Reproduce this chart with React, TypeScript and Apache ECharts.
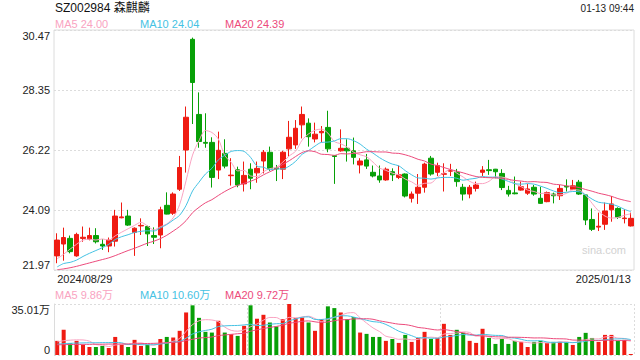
import { useEffect, useRef } from 'react';
import * as echarts from 'echarts';

const titleText = 'SZ002984 森麒麟';
const timeText = '01-13 09:44';
const watermark = 'sina.com';

const dates = [
  '2024/08/29', '2024/08/30',
  '2024/09/02', '2024/09/03', '2024/09/04', '2024/09/05', '2024/09/06',
  '2024/09/09', '2024/09/10', '2024/09/11', '2024/09/12', '2024/09/13',
  '2024/09/18', '2024/09/19', '2024/09/20',
  '2024/09/23', '2024/09/24', '2024/09/25', '2024/09/26', '2024/09/27', '2024/09/30',
  '2024/10/08', '2024/10/09', '2024/10/10', '2024/10/11',
  '2024/10/14', '2024/10/15', '2024/10/16', '2024/10/17', '2024/10/18',
  '2024/10/21', '2024/10/22', '2024/10/23', '2024/10/24', '2024/10/25',
  '2024/10/28', '2024/10/29', '2024/10/30', '2024/10/31',
  '2024/11/01', '2024/11/04', '2024/11/05', '2024/11/06', '2024/11/07', '2024/11/08',
  '2024/11/11', '2024/11/12', '2024/11/13', '2024/11/14', '2024/11/15',
  '2024/11/18', '2024/11/19', '2024/11/20', '2024/11/21', '2024/11/22',
  '2024/11/25', '2024/11/26', '2024/11/27', '2024/11/28', '2024/11/29',
  '2024/12/02', '2024/12/03', '2024/12/04', '2024/12/05', '2024/12/06',
  '2024/12/09', '2024/12/10', '2024/12/11', '2024/12/12', '2024/12/13',
  '2024/12/16', '2024/12/17', '2024/12/18', '2024/12/19', '2024/12/20',
  '2024/12/23', '2024/12/24', '2024/12/25', '2024/12/26', '2024/12/27',
  '2024/12/30', '2024/12/31',
  '2025/01/02', '2025/01/03', '2025/01/06', '2025/01/07', '2025/01/08', '2025/01/09', '2025/01/10',
  '2025/01/13',
];

const opens = [
  22.47, 22.89, 23.09, 22.47, 23.09, 23.06, 23.19, 22.88, 22.82, 22.99,
  23.82, 23.88, 23.30, 23.53, 23.51, 23.19, 23.21, 24.26, 23.98, 24.83,
  26.22, 30.14, 27.48, 26.49, 26.49, 25.51, 26.10, 25.31, 25.52, 25.02,
  25.54, 25.41, 25.83, 26.14, 25.57, 25.54, 26.26, 26.40, 27.11, 27.17,
  26.61, 26.83, 27.02, 26.02, 26.19, 26.28, 26.19, 25.69, 25.87, 25.43,
  25.30, 25.16, 25.45, 25.25, 25.37, 24.51, 24.69, 24.90, 25.93, 25.43,
  25.36, 25.47, 25.43, 24.90, 24.66, 24.86, 25.43, 25.52, 25.54, 25.39,
  24.79, 24.70, 24.80, 24.69, 24.90, 24.51, 24.39, 24.66, 24.60, 24.93,
  24.83, 25.08, 24.63, 23.76, 23.49, 23.59, 24.10, 24.15, 23.79, 23.53,
];
const closes = [
  23.03, 23.12, 22.62, 23.23, 23.13, 23.19, 22.97, 22.82, 23.03, 23.88,
  23.85, 23.56, 23.45, 23.55, 23.25, 23.13, 24.10, 23.95, 24.66, 25.60,
  27.38, 28.61, 26.52, 26.46, 25.25, 26.21, 25.65, 25.33, 24.98, 25.32,
  25.22, 25.57, 26.14, 25.57, 25.55, 26.14, 26.67, 26.99, 27.48, 26.69,
  26.78, 26.88, 26.26, 25.99, 26.28, 26.19, 25.96, 25.83, 25.65, 25.30,
  25.16, 25.54, 25.34, 25.34, 24.59, 24.66, 24.90, 25.72, 25.37, 25.67,
  25.38, 25.49, 25.10, 24.66, 24.90, 24.98, 25.51, 25.49, 25.45, 24.89,
  24.66, 24.67, 24.92, 24.84, 24.66, 24.33, 24.71, 24.60, 24.86, 24.91,
  24.95, 24.66, 23.74, 23.41, 23.52, 24.06, 24.31, 23.84, 23.81, 23.80,
];
const lows = [
  22.21, 22.30, 22.56, 22.44, 22.97, 23.02, 22.91, 22.68, 22.60, 22.80,
  23.80, 23.53, 22.47, 23.21, 22.82, 22.89, 22.74, 23.94, 23.92, 24.77,
  25.42, 27.14, 26.30, 26.30, 24.89, 25.19, 25.57, 24.96, 24.90, 24.75,
  24.83, 25.06, 25.39, 25.48, 25.12, 25.19, 25.98, 26.26, 26.63, 26.34,
  26.49, 26.49, 26.14, 25.02, 26.16, 25.81, 25.71, 25.39, 25.55, 25.25,
  25.06, 25.13, 25.12, 25.19, 24.54, 24.36, 24.31, 24.71, 25.31, 25.30,
  24.75, 25.30, 24.92, 24.43, 24.51, 24.75, 25.30, 25.34, 25.22, 24.80,
  24.57, 24.65, 24.78, 24.63, 24.60, 24.31, 24.37, 24.33, 24.45, 24.75,
  24.80, 24.63, 23.56, 23.35, 23.35, 23.39, 23.68, 23.78, 23.62, 23.51,
];
const highs = [
  23.27, 23.47, 23.19, 23.29, 23.51, 23.47, 23.45, 23.06, 23.12, 24.10,
  24.36, 24.10, 23.48, 23.80, 23.54, 23.48, 24.21, 24.72, 24.72, 26.01,
  27.76, 30.20, 28.26, 27.52, 26.67, 26.87, 26.60, 25.93, 25.63, 25.81,
  25.75, 25.81, 26.22, 26.34, 25.69, 26.19, 27.25, 27.28, 27.76, 27.34,
  27.19, 27.07, 27.61, 26.04, 26.95, 26.60, 26.66, 25.93, 26.08, 25.67,
  25.67, 25.60, 25.57, 25.67, 25.39, 24.75, 25.37, 25.77, 26.01, 25.77,
  25.75, 25.73, 25.55, 25.02, 24.98, 25.10, 25.65, 25.87, 25.55, 25.54,
  24.95, 25.28, 25.10, 25.02, 24.98, 24.92, 24.75, 24.71, 24.98, 25.18,
  25.16, 25.16, 24.66, 24.15, 24.00, 24.36, 24.59, 24.19, 24.12, 24.00,
];

const ma5 = [
  22.37, 22.53, 22.71, 22.88, 23.03, 23.06, 23.03, 23.07, 23.03, 23.18,
  23.31, 23.43, 23.55, 23.66, 23.53, 23.39, 23.50, 23.60, 23.82, 24.29,
  25.14, 26.04, 26.55, 26.91, 26.84, 26.61, 26.02, 25.78, 25.48, 25.50,
  25.30, 25.28, 25.45, 25.56, 25.61, 25.79, 26.01, 26.18, 26.57, 26.79,
  26.92, 26.96, 26.82, 26.52, 26.44, 26.32, 26.14, 26.05, 25.98, 25.79,
  25.58, 25.50, 25.40, 25.34, 25.19, 25.09, 24.97, 25.04, 25.05, 25.26,
  25.41, 25.53, 25.40, 25.26, 25.11, 25.03, 25.03, 25.11, 25.27, 25.26,
  25.20, 25.03, 24.92, 24.80, 24.75, 24.68, 24.69, 24.63, 24.63, 24.68,
  24.81, 24.80, 24.62, 24.33, 24.06, 23.88, 23.81, 23.83, 23.91, 23.96,
];
const ma10 = [
  22.08, 22.20, 22.24, 22.32, 22.45, 22.56, 22.66, 22.76, 22.88, 23.05,
  23.15, 23.22, 23.30, 23.34, 23.36, 23.35, 23.46, 23.58, 23.74, 23.91,
  24.26, 24.77, 25.08, 25.37, 25.57, 25.87, 26.03, 26.17, 26.20, 26.17,
  25.96, 25.65, 25.61, 25.52, 25.55, 25.55, 25.65, 25.82, 26.07, 26.20,
  26.36, 26.49, 26.50, 26.54, 26.62, 26.62, 26.55, 26.43, 26.25, 26.11,
  25.95, 25.82, 25.72, 25.66, 25.49, 25.34, 25.23, 25.22, 25.19, 25.23,
  25.25, 25.25, 25.22, 25.15, 25.19, 25.22, 25.28, 25.26, 25.26, 25.19,
  25.11, 25.03, 25.01, 25.03, 25.01, 24.94, 24.86, 24.77, 24.71, 24.72,
  24.75, 24.74, 24.63, 24.48, 24.37, 24.34, 24.30, 24.23, 24.12, 24.04,
];
const ma20 = [
  21.98, 22.01, 22.05, 22.10, 22.16, 22.22, 22.28, 22.34, 22.40, 22.48,
  22.57, 22.66, 22.74, 22.83, 22.92, 22.99, 23.08, 23.20, 23.35, 23.51,
  23.72, 24.00, 24.19, 24.35, 24.46, 24.61, 24.75, 24.87, 24.97, 25.04,
  25.11, 25.21, 25.34, 25.45, 25.56, 25.71, 25.84, 25.99, 26.13, 26.19,
  26.16, 26.07, 26.06, 26.03, 26.09, 26.08, 26.10, 26.12, 26.16, 26.16,
  26.15, 26.15, 26.11, 26.10, 26.05, 25.98, 25.89, 25.83, 25.72, 25.67,
  25.60, 25.53, 25.47, 25.41, 25.34, 25.28, 25.25, 25.24, 25.23, 25.21,
  25.18, 25.14, 25.12, 25.09, 25.10, 25.08, 25.07, 25.01, 24.99, 24.95,
  24.93, 24.89, 24.82, 24.76, 24.69, 24.64, 24.58, 24.50, 24.44, 24.39,
];

// volume in 万手
const volumes = [
  9.7, 17.3, 8.1, 9.7, 6.9, 5.5, 5.5, 6.2, 4.8, 12.4,
  7.1, 5.5, 10.4, 6.2, 7.1, 4.8, 11.0, 12.4, 12.0, 16.6,
  29.2, 34.1, 25.5, 15.9, 15.4, 23.5, 15.4, 14.3, 13.1, 20.0,
  34.1, 24.9, 27.6, 22.3, 19.6, 24.7, 35.01, 25.5, 25.7, 22.3,
  16.6, 24.6, 33.4, 32.2, 29.2, 24.6, 26.0, 15.4, 14.5, 12.4,
  12.4, 9.7, 11.0, 8.3, 13.8, 9.0, 11.7, 15.9, 11.0, 11.7,
  21.4, 13.8, 17.3, 15.2, 9.7, 8.3, 18.0, 11.7, 7.6, 11.0,
  7.6, 9.7, 9.0, 5.5, 9.0, 9.7, 8.3, 9.0, 9.0, 9.0,
  6.9, 12.4, 15.2, 11.7, 9.0, 13.8, 13.8, 9.7, 10.4, 0.7,
];
const vma5 = [
  9.0, 9.8, 10.2, 10.4, 10.34, 9.50, 7.14, 6.76, 5.78, 6.88,
  7.20, 7.20, 8.04, 8.32, 7.26, 6.80, 7.90, 8.30, 9.46, 11.36,
  16.24, 20.86, 23.48, 24.26, 24.02, 22.88, 19.14, 16.90, 16.34, 17.26,
  19.38, 21.28, 23.94, 25.78, 25.70, 23.82, 25.84, 25.42, 26.10, 26.64,
  25.02, 22.94, 24.52, 25.82, 27.20, 28.80, 29.08, 25.48, 21.94, 18.58,
  16.14, 12.88, 12.00, 10.76, 11.04, 10.36, 10.76, 11.74, 12.28, 11.86,
  14.34, 14.76, 15.04, 15.88, 15.48, 12.86, 13.70, 12.58, 11.06, 11.32,
  11.18, 9.52, 8.98, 8.56, 8.16, 8.58, 8.30, 8.30, 9.00, 9.00,
  8.44, 9.26, 10.50, 11.04, 11.04, 12.42, 12.70, 11.60, 11.34, 9.86,
];
const vma10 = [
  7.4, 7.8, 8.0, 8.2, 8.3, 8.4, 8.4, 8.5, 8.5, 8.61,
  8.35, 7.17, 7.40, 7.05, 7.07, 7.00, 7.55, 8.17, 8.89, 9.31,
  11.52, 14.38, 15.89, 16.86, 17.69, 19.56, 20.00, 20.19, 20.30, 20.64,
  21.13, 20.21, 20.42, 21.06, 21.48, 21.60, 23.56, 24.68, 25.94, 26.17,
  24.42, 24.39, 24.97, 25.96, 26.92, 26.91, 26.01, 25.00, 23.88, 22.89,
  22.47, 20.98, 18.74, 16.35, 14.81, 13.25, 11.82, 11.87, 11.52, 11.45,
  12.35, 12.76, 13.39, 14.08, 13.67, 13.60, 14.23, 13.81, 13.47, 13.40,
  12.02, 11.61, 10.78, 9.81, 9.74, 9.88, 8.91, 8.64, 8.78, 8.58,
  8.51, 8.78, 9.40, 10.02, 10.02, 10.43, 10.98, 11.05, 11.19, 10.60,
];
const vma20 = [
  7.0, 7.1, 7.2, 7.2, 7.3, 7.3, 7.4, 7.4, 7.5, 7.5,
  7.6, 7.6, 7.7, 7.8, 7.9, 8.0, 8.2, 8.4, 8.7, 8.96,
  9.94, 10.78, 11.65, 11.96, 12.38, 13.28, 13.78, 14.18, 14.60, 14.98,
  16.33, 17.30, 18.16, 18.96, 19.59, 20.58, 21.78, 22.44, 23.12, 23.41,
  22.78, 22.30, 22.70, 23.51, 24.20, 24.26, 24.79, 24.84, 24.91, 24.53,
  23.45, 22.69, 21.86, 21.16, 20.87, 20.08, 18.92, 18.44, 17.70, 17.17,
  17.41, 16.87, 16.07, 15.22, 14.24, 13.43, 13.03, 12.84, 12.50, 12.43,
  12.19, 12.19, 12.09, 11.95, 11.71, 11.74, 11.57, 11.23, 11.13, 10.99,
  10.27, 10.20, 10.09, 9.92, 9.88, 10.16, 9.95, 9.85, 9.99, 9.72,
];

const priceTicks = ['21.97', '24.09', '26.22', '28.35', '30.47'];
const priceMin = 21.97;
const priceMax = 30.47;
const volTicks = ['0', '35.01万'];
const volMax = 35.01;

const maLegend = ['MA5 24.00', 'MA10 24.04', 'MA20 24.39'];
const volLegend = ['MA5 9.86万', 'MA10 10.60万', 'MA20 9.72万'];

const UP = '#ef1b12';
const DOWN = '#07a007';
const C5 = '#f9a3c1';
const C10 = '#45c2e3';
const C20 = '#ec4b7c';
const GRID_C = '#dcdcdc';
const FONT = 'Arial, "Liberation Sans", "Noto Sans CJK SC", sans-serif';

export default function App() {
  const ref = useRef<HTMLDivElement>(null);
  useEffect(() => {
    if (!ref.current) return;
    const chart = echarts.init(ref.current, null, { renderer: 'svg' });
    const N = dates.length;
    const candleData = dates.map((_, i) => [opens[i], closes[i], lows[i], highs[i]]);
    const volData = volumes.map((v, i) => ({
      value: v,
      itemStyle: { color: closes[i] > opens[i] ? UP : DOWN },
    }));
    const priceInterval = (priceMax - priceMin) / (priceTicks.length - 1);
    const lineSeries = (data: number[], color: string, gi: number) => ({
      type: 'line',
      xAxisIndex: gi,
      yAxisIndex: gi,
      data,
      symbol: 'none',
      smooth: 0.3,
      silent: true,
      lineStyle: { width: 1, color },
      z: 3,
    });
    const legendColors = [C5, C10, C20];
    const legendX = [55, 140, 225];
    const textEl = (text: string, x: number, y: number, fill: string, fontSize: number, align = 'left') => ({
      type: 'text',
      x,
      y,
      silent: true,
      style: { text, fill, fontSize, fontFamily: FONT, align, verticalAlign: 'middle' },
    });
    chart.setOption({
      animation: false,
      backgroundColor: '#ffffff',
      grid: [
        { left: 54, right: 6, top: 30, height: 240, show: true, borderColor: GRID_C, borderWidth: 1 },
        { left: 54, right: 6, top: 304, height: 51 },
      ],
      xAxis: [
        {
          type: 'category',
          gridIndex: 0,
          data: dates,
          boundaryGap: true,
          axisLine: { show: false },
          axisTick: { show: false },
          splitLine: { show: false },
          axisLabel: {
            interval: (i: number) => i === 0 || i === N - 1,
            color: '#222',
            fontSize: 11,
            fontFamily: FONT,
            margin: 3,
            alignMinLabel: 'left',
            alignMaxLabel: 'right',
          },
        },
        {
          type: 'category',
          gridIndex: 1,
          data: dates,
          boundaryGap: true,
          axisLine: { show: false },
          axisTick: { show: false },
          axisLabel: { show: false },
          splitLine: {
            show: true,
            interval: (i: number) => i % 30 === 0,
            lineStyle: { color: GRID_C, type: [2, 2] },
          },
        },
      ],
      yAxis: [
        {
          type: 'value',
          gridIndex: 0,
          min: priceMin,
          max: priceMax,
          interval: priceInterval,
          axisLine: { show: false },
          axisTick: { show: false },
          splitLine: { show: true, lineStyle: { color: GRID_C, type: [2, 2] } },
          axisLabel: {
            formatter: (v: number) => priceTicks[Math.round((v - priceMin) / priceInterval)],
            color: '#222',
            fontSize: 11,
            fontFamily: FONT,
            margin: 4,
            verticalAlignMinLabel: 'bottom',
            verticalAlignMaxLabel: 'top',
          },
        },
        {
          type: 'value',
          gridIndex: 1,
          min: 0,
          max: volMax,
          interval: volMax,
          axisLine: { show: true, lineStyle: { color: GRID_C } },
          axisTick: { show: false },
          splitLine: { show: true, lineStyle: { color: GRID_C, type: [2, 2] } },
          axisLabel: {
            formatter: (v: number) => (v === 0 ? volTicks[0] : volTicks[1]),
            color: '#222',
            fontSize: 11,
            fontFamily: FONT,
            margin: 4,
            verticalAlignMinLabel: 'bottom',
            verticalAlignMaxLabel: 'top',
          },
        },
      ],
      series: [
        {
          type: 'candlestick',
          xAxisIndex: 0,
          yAxisIndex: 0,
          data: candleData,
          barWidth: 5,
          silent: true,
          itemStyle: {
            color: UP,
            color0: DOWN,
            borderColor: UP,
            borderColor0: DOWN,
            borderWidth: 1,
          },
        },
        lineSeries(ma5, C5, 0),
        lineSeries(ma10, C10, 0),
        lineSeries(ma20, C20, 0),
        {
          type: 'bar',
          xAxisIndex: 1,
          yAxisIndex: 1,
          data: volData,
          barWidth: 4,
          silent: true,
        },
        lineSeries(vma5, C5, 1),
        lineSeries(vma10, C10, 1),
        lineSeries(vma20, C20, 1),
      ],
      graphic: [
        textEl(titleText, 55, 8, '#111', 12),
        textEl(timeText, 634, 8, '#222', 10, 'right'),
        ...maLegend.map((t, i) => textEl(t, legendX[i], 24, legendColors[i], 11)),
        ...volLegend.map((t, i) => textEl(t, legendX[i], 295, legendColors[i], 11)),
        textEl(watermark, 582, 250, '#d2d2d2', 11),
      ],
    });
    return () => chart.dispose();
  }, []);
  return (
    <div
      ref={ref}
      style={{ position: 'fixed', left: 0, top: 0, width: 640, height: 360, background: '#fff' }}
    />
  );
}
